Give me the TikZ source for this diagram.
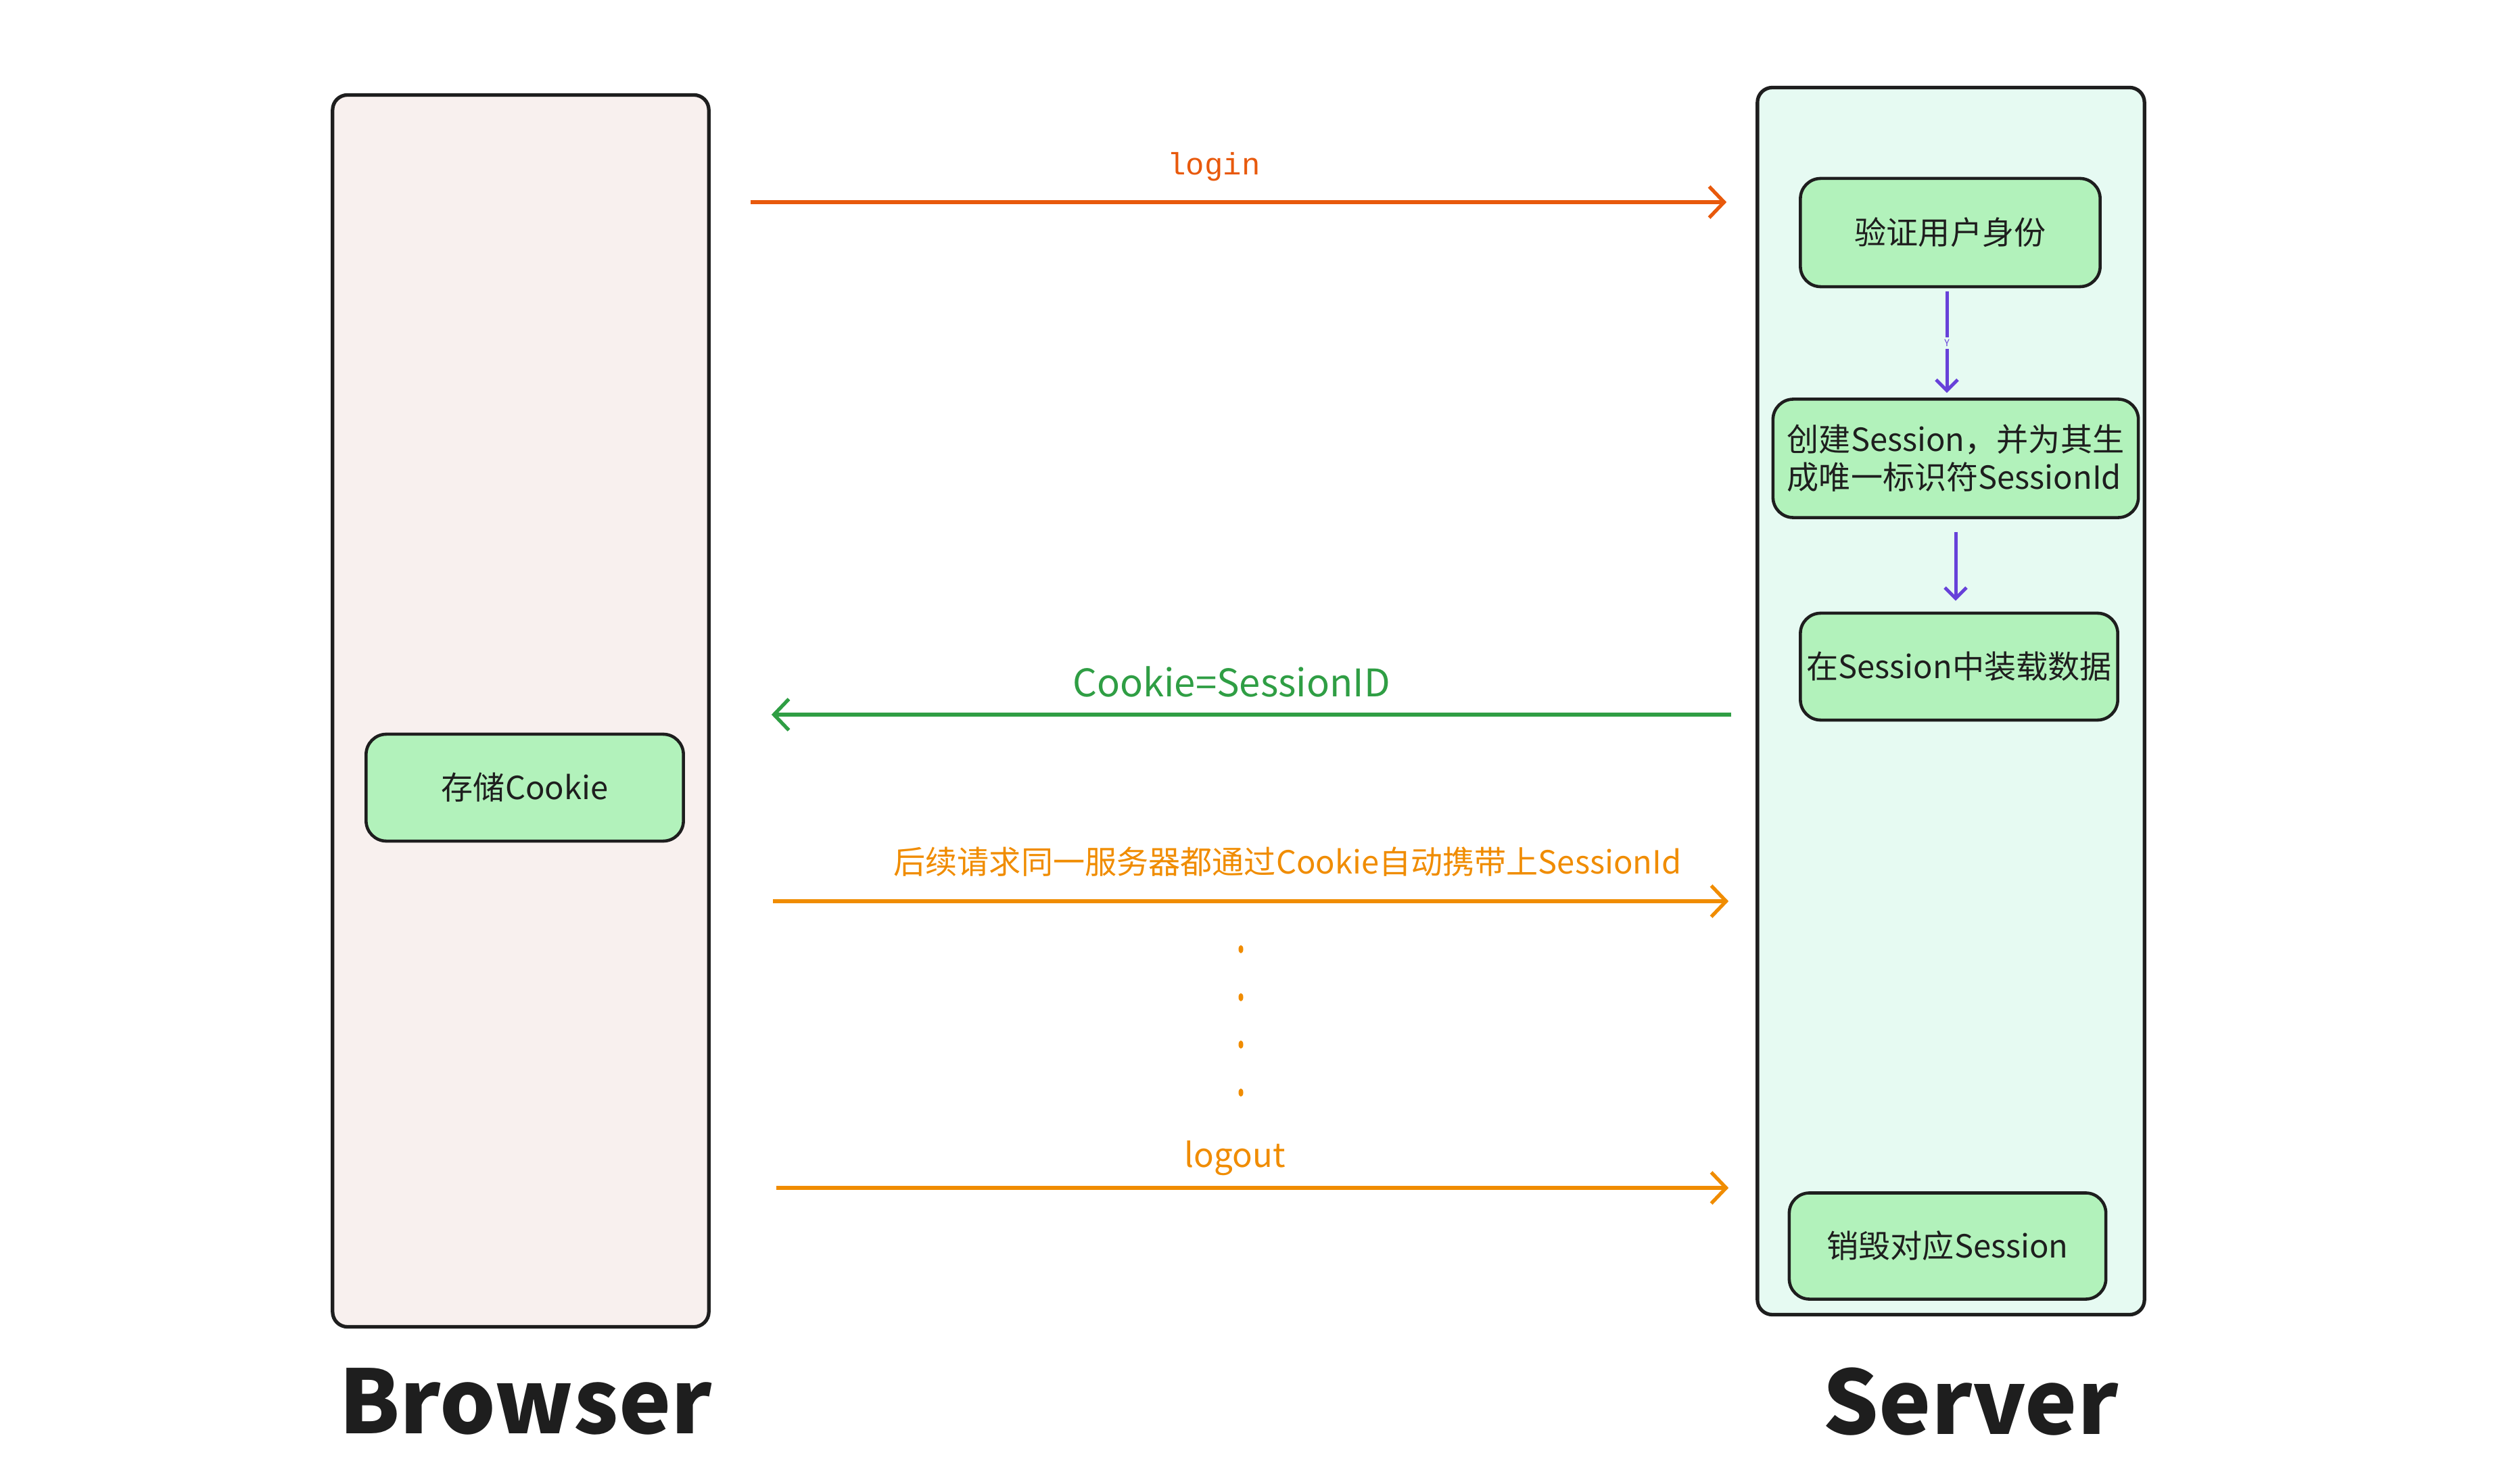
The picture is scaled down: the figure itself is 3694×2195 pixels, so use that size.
\documentclass[tikz,border=0pt]{standalone}
\usepackage{fontspec}
\setmainfont{Noto Sans CJK SC}
\setmonofont{Liberation Mono}
\usetikzlibrary{arrows.meta,positioning}
\definecolor{kenarSiyah}{HTML}{1E1E1E}
\definecolor{tarayiciZemin}{HTML}{F8F0EE}
\definecolor{sunucuZemin}{HTML}{E6FAF2}
\definecolor{kutuYesil}{HTML}{B2F2BB}
\definecolor{koyuTuruncu}{HTML}{E8590C}
\definecolor{turuncu}{HTML}{F08C00}
\definecolor{yesil}{HTML}{2F9E44}
\definecolor{mor}{HTML}{6741D9}
\begin{document}
\begin{tikzpicture}[x=0.01cm,y=-0.01cm,
  kap/.style={draw=kenarSiyah,line width=1.5pt,rounded corners=0.22cm,inner sep=0pt},
  kutu/.style={draw=kenarSiyah,line width=1.3pt,fill=kutuYesil,rounded corners=0.3cm,
    inner sep=0pt,text=kenarSiyah,font=\fontsize{13.4}{16}\selectfont},
  ok/.style={line width=1.5pt,-{Straight Barb[length=2.2mm,width=4.6mm]}},
  icok/.style={mor,line width=1.4pt,-{Straight Barb[length=1.6mm,width=3.2mm]}},
  etiket/.style={font=\fontsize{13.4}{16}\selectfont},
  baslik/.style={text=kenarSiyah,font=\fontsize{37}{37}\selectfont\bfseries}]
\useasboundingbox (0,0) rectangle (3694,2195);
% kaplar
\node[kap,fill=tarayiciZemin,minimum width=5.56cm,minimum height=18.21cm] (browser) at (770,1051.5) {};
\node[kap,fill=sunucuZemin,minimum width=5.72cm,minimum height=18.14cm] (server) at (2885,1037) {};
% sunucu adimlari
\node[kutu,minimum width=4.43cm,minimum height=1.60cm] (verify) at (2884,344) {验证用户身份};
\node[kutu,minimum width=5.40cm,minimum height=1.75cm,align=left] (create) at (2892,678)
  {创建Session，并为其生\\成唯一标识符SessionId};
\node[kutu,minimum width=4.69cm,minimum height=1.58cm] (load) at (2897,986) {在Session中装载数据};
\node[kutu,minimum width=4.68cm,minimum height=1.57cm] (destroy) at (2880,1843) {销毁对应Session};
\node[kutu,minimum width=4.69cm,minimum height=1.58cm] (store) at (776,1165) {存储Cookie};
\draw[icok,shorten <=0.05cm,shorten >=0.07cm] ([xshift=-0.05cm]verify.south) -- ([xshift=-0.05cm]verify.south |- create.north)
  node[midway,fill=sunucuZemin,inner sep=1pt,text=mor,font=\fontsize{4}{4}\selectfont] {Y};
\draw[icok,shorten <=0.19cm,shorten >=0.16cm] (create.south) -- (create.south |- load.north);
% mesajlar
\coordinate (loginY) at (0,299);
\coordinate (cookieY) at (0,1057);
\coordinate (sonrakiY) at (0,1333);
\coordinate (logoutY) at (0,1757);
\draw[ok,koyuTuruncu,shorten <=0.59cm,shorten >=0.43cm] (browser.east |- loginY) -- (server.west |- loginY);
\node[koyuTuruncu,font=\ttfamily\fontsize{13}{16}\selectfont] (loginEt) at (1795,247) {login};
\draw[ok,yesil,shorten <=0.36cm,shorten >=0.90cm] (server.west |- cookieY) -- (browser.east |- cookieY);
\node[yesil,font=\fontsize{16}{18}\selectfont] (cookieEt) at (1821,1008) {Cookie=SessionID};
\draw[ok,turuncu,shorten <=0.92cm,shorten >=0.40cm] (browser.east |- sonrakiY) -- (server.west |- sonrakiY);
\node[turuncu,etiket] (sonrakiEt) at (1904,1275) {后续请求同一服务器都通过Cookie自动携带上SessionId};
\foreach \y in {1404,1475,1545,1616}
  \fill[turuncu] (1835,\y) ellipse [x radius=0.035cm,y radius=0.06cm];
\draw[ok,turuncu,shorten <=0.97cm,shorten >=0.40cm] (browser.east |- logoutY) -- (server.west |- logoutY);
\node[turuncu,font=\fontsize{14}{16}\selectfont] (logoutEt) at (1826,1713) {logout};
% basliklar
\node[baslik] (browserEt) at (777,2073) {Browser};
\node[baslik] (serverEt) at (2914,2073) {Server};
\end{tikzpicture}
\end{document}
